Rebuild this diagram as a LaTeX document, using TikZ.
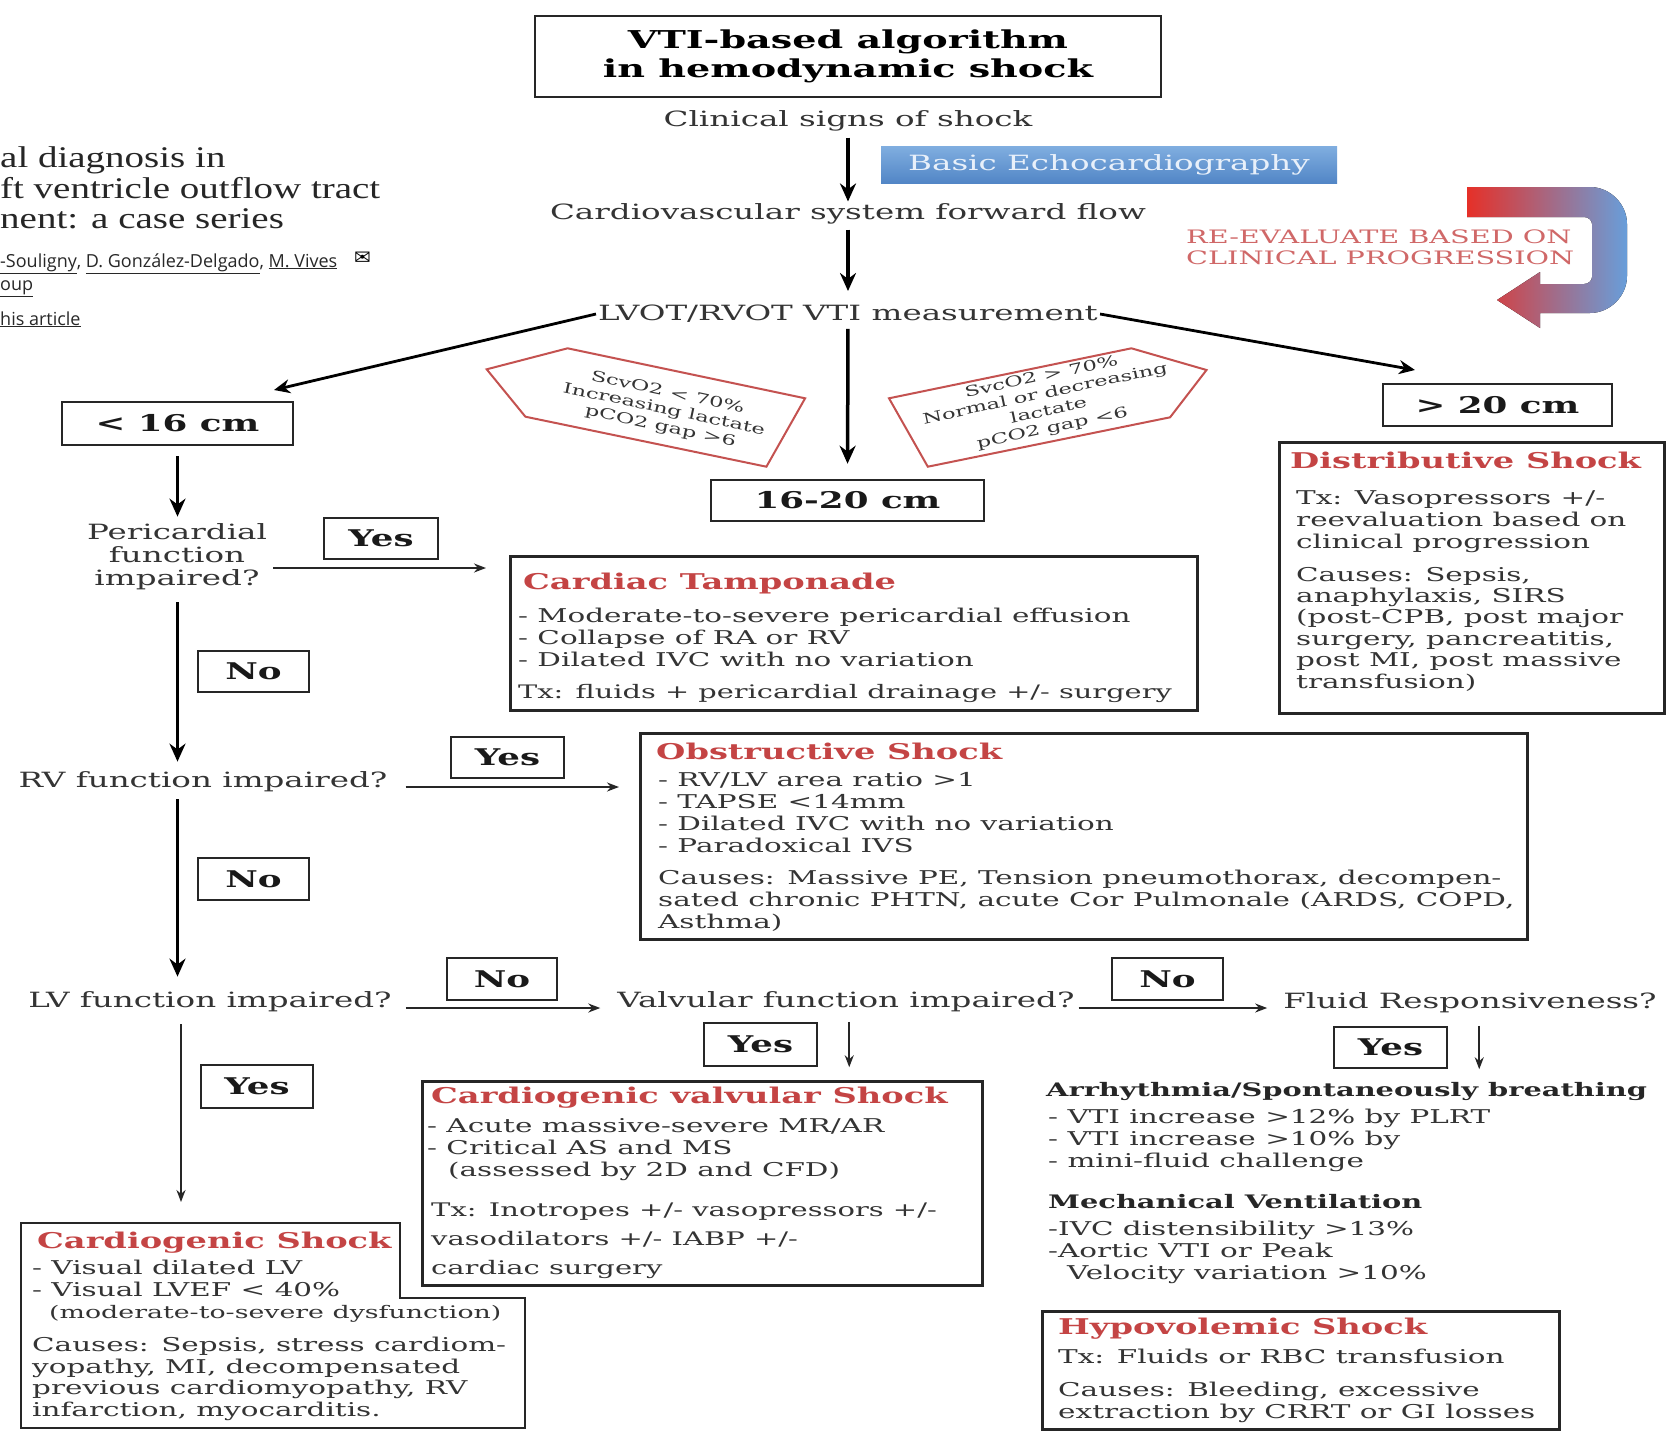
\documentclass[tikz,border=0pt]{standalone}
\usepackage{fontspec}
\setmainfont{DejaVu Serif}[FakeStretch=1.55]
\newfontfamily\artfont{Liberation Serif}[FakeStretch=1.3]
\newfontfamily\authfont{Open Sans}
\newfontfamily\symfont{DejaVu Sans}
\usetikzlibrary{arrows.meta}
\definecolor{txt}{RGB}{52,52,52}
\definecolor{hdr}{RGB}{196,68,68}
\definecolor{pentc}{RGB}{196,82,80}
\definecolor{bord}{RGB}{38,38,38}
\definecolor{reev}{RGB}{208,104,104}
\definecolor{betop}{RGB}{128,174,224}
\definecolor{bebot}{RGB}{82,134,198}
\definecolor{betxt}{RGB}{232,240,250}
\definecolor{arred}{RGB}{230,48,40}
\definecolor{arblue}{RGB}{104,158,218}
\definecolor{authc}{RGB}{40,40,40}
\begin{document}
\begin{tikzpicture}[x=1pt,y=-1pt,
  flow/.style={font=\fontsize{21}{23}\selectfont, text=txt, align=center, inner sep=2pt},
  lab/.style={draw=bord, line width=2.5pt, font=\bfseries\fontsize{23}{26}\selectfont, text=black!90, inner sep=0pt},
  cbox/.style={draw=bord, line width=2.5pt, inner sep=0pt, anchor=north west},
  hd/.style={font=\bfseries\fontsize{21.7}{24}\selectfont, text=hdr, anchor=base west, inner sep=0pt},
  body/.style={font=\fontsize{19}{21.7}\selectfont, text=txt, anchor=base west, align=left, inner sep=0pt},
  subhd/.style={font=\bfseries\fontsize{18.6}{21}\selectfont, text=black!85, anchor=base west, inner sep=0pt},
  arrA/.style={line width=3.5pt, draw=black, -{Stealth[length=18pt,width=16pt]}},
  arrL/.style={line width=2.8pt, draw=black, -{Stealth[length=16pt,width=14pt]}},
  arrB/.style={line width=1.8pt, draw=black!85, -{Stealth[length=12pt,width=9pt]}},
  pent/.style={draw=pentc, line width=2pt},
  ptxt/.style={font=\fontsize{14.5}{17.5}\selectfont, text=txt, align=center, inner sep=0pt},
  art/.style={font=\artfont\fontsize{30}{30.5}\selectfont, text=black!85, anchor=base west, inner sep=0pt},
  auth/.style={font=\authfont\fontsize{18}{20}\selectfont, text=authc, anchor=base west, inner sep=0pt},
]
\useasboundingbox (0,0) rectangle (1668,1430);
\clip (0,0) rectangle (1668,1430);
\fill[white] (0,0) rectangle (1668,1430);

% article fragment at left
\node[art] (a1) at (0,167) {al diagnosis in};
\node[art] (a2) at (0,198) {ft ventricle outflow tract};
\node[art] (a3) at (0,228) {nent: a case series};
\node[auth] (a4) at (0,267) {\underline{-Souligny}, \underline{D. González-Delgado}, \underline{M. Vives}};
\node[font=\symfont\fontsize{20}{20}\selectfont, anchor=base west, inner sep=0pt] (env) at (354,264) {✉};
\node[auth] (a5) at (0,290) {\underline{oup}};
\node[auth] (a6) at (0,325) {\underline{his article}};

% title and main flow
\node[draw=bord, line width=2.5pt, minimum width=626, minimum height=81, font=\bfseries\fontsize{24.6}{28.5}\selectfont, align=center, inner sep=0pt] (title) at (848,56.5) {VTI-based algorithm\\in hemodynamic shock};
\node[flow] (cs) at (848,121) {Clinical signs of shock};
\node[top color=betop, bottom color=bebot, minimum width=456, minimum height=37, inner sep=0pt, text=betxt, font=\fontsize{21}{23}\selectfont] (be) at (1109,164.5) {Basic Echocardiography};
\node[flow] (cv) at (848,214) {Cardiovascular system forward flow};
\node[flow] (lvot) at (848,314) {LVOT/RVOT VTI measurement};

% re-evaluate
\node[font=\fontsize{18.5}{21}\selectfont, text=reev, anchor=base west, align=left, inner sep=0pt] (reev) at (1186,264) {RE-EVALUATE BASED ON\\CLINICAL PROGRESSION};
\fill[left color=arred, right color=arblue] (1467,187) -- (1590,187) .. controls (1610,187) and (1627,204) .. (1627,224) -- (1627,276) .. controls (1627,296) and (1610,313) .. (1590,313) -- (1540,313) -- (1540,328) -- (1497,300) -- (1540,272) -- (1540,284) -- (1584,284) .. controls (1588,284) and (1592,281) .. (1592,277) -- (1592,224) .. controls (1592,220) and (1588,217) .. (1584,217) -- (1467,217) -- cycle;

% pentagons
\draw[pent] (486.7,369.3) -- (567.6,348.3) -- (805.1,398.3) -- (766.4,466.7) -- (525.4,416.7) -- cycle;
\draw[pent] (889,398.3) -- (1131.4,348.3) -- (1206.5,370) -- (1170.1,417.3) -- (927.8,466.7) -- cycle;
\node[ptxt, rotate=-12] (pl) at (664,410) {ScvO2 < 70\%\\Increasing lactate\\pCO2 gap >6};
\node[ptxt, rotate=12] (pr) at (1047,403) {SvcO2 > 70\%\\Normal or decreasing\\lactate\\pCO2 gap <6};

% range boxes
\node[lab, minimum width=231, minimum height=43] (lt16) at (177.5,423.5) {< 16 cm};
\node[lab, minimum width=229, minimum height=42] (gt20) at (1497.5,405) {> 20 cm};
\node[lab, minimum width=273, minimum height=41] (mid) at (847.5,500.5) {16-20 cm};

% questions
\node[flow] (peri) at (177,557) {Pericardial\\function\\impaired?};
\node[flow] (rv) at (203,782) {RV function impaired?};
\node[flow] (lv) at (210,1002) {LV function impaired?};
\node[flow] (valv) at (846,1002) {Valvular function impaired?};
\node[flow] (fluid) at (1470,1003) {Fluid Responsiveness?};

% yes / no labels
\node[lab, minimum width=114, minimum height=41] (yes1) at (381,538.5) {Yes};
\node[lab, minimum width=111, minimum height=41] (no1) at (253.5,671.5) {No};
\node[lab, minimum width=113, minimum height=41] (yes2) at (507.5,757.5) {Yes};
\node[lab, minimum width=111, minimum height=42] (no2) at (253.5,879) {No};
\node[lab, minimum width=110, minimum height=42] (no3) at (502,979) {No};
\node[lab, minimum width=111, minimum height=42] (no4) at (1167.5,979) {No};
\node[lab, minimum width=113, minimum height=43] (yes3) at (760.5,1044.5) {Yes};
\node[lab, minimum width=113, minimum height=41] (yes4) at (1390.5,1047.5) {Yes};
\node[lab, minimum width=112, minimum height=43] (yes5) at (257,1086.5) {Yes};

% Cardiac tamponade
\node[cbox, minimum width=687, minimum height=154] (ct) at (509,555) {};
\node[hd] (cth) at (523,589) {Cardiac Tamponade};
\node[body] (ctb) at (518,698) {- Moderate-to-severe pericardial effusion\\- Collapse of RA or RV\\- Dilated IVC with no variation\\[10pt]{\fontsize{18.6}{21.7}\selectfont Tx: fluids + pericardial drainage +/- surgery}};

% Obstructive
\node[cbox, minimum width=887, minimum height=206] (ob) at (639,732) {};
\node[hd] (obh) at (656,759) {Obstructive Shock};
\node[body] (obb) at (658,852) {- RV/LV area ratio >1\\- TAPSE <14mm\\- Dilated IVC with no variation\\- Paradoxical IVS};
\node[body] (obc) at (658,928) {Causes: Massive PE, Tension pneumothorax, decompen-\\sated chronic PHTN, acute Cor Pulmonale (ARDS, COPD,\\Asthma)};

% Distributive
\node[cbox, minimum width=385, minimum height=271] (ds) at (1278,441) {};
\node[hd] (dsh) at (1290,468) {Distributive Shock};
\node[body] (dsb) at (1296,548) {Tx: Vasopressors +/-\\reevaluation based on\\clinical progression};
\node[body, font=\fontsize{19}{21.4}\selectfont] (dsc) at (1296,688) {Causes: Sepsis,\\anaphylaxis, SIRS\\(post-CPB, post major\\surgery, pancreatitis,\\post MI, post massive\\transfusion)};

% Valvular
\node[cbox, minimum width=560, minimum height=204] (vb) at (421,1080) {};
\node[hd] (vbh) at (431,1103) {Cardiogenic valvular Shock};
\node[body] (vbb) at (427,1176) {- Acute massive-severe MR/AR\\- Critical AS and MS\\\hspace*{21pt}(assessed by 2D and CFD)};
\node[body, font=\fontsize{18.7}{29}\selectfont] (vbt) at (431,1274) {Tx: Inotropes +/- vasopressors +/-\\vasodilators +/- IABP +/-\\cardiac surgery};

% Cardiogenic
\draw[line width=2.5pt, draw=bord] (21,1223) -- (400,1223) -- (400,1298) -- (525,1298) -- (525,1428) -- (21,1428) -- cycle;
\node[hd] (cgh) at (37,1248) {Cardiogenic Shock};
\node[body, text=black!80] (cgb) at (32,1318) {- Visual dilated LV\\- Visual LVEF < 40\%\\\hspace*{17pt}{\fontsize{17.3}{21.7}\selectfont(moderate-to-severe dysfunction)}};
\node[body, font=\fontsize{19}{21.4}\selectfont] (cgc) at (32,1416) {Causes: Sepsis, stress cardiom-\\yopathy, MI, decompensated\\previous cardiomyopathy, RV\\infarction, myocarditis.};

% Fluid responsiveness
\node[subhd] (fr1) at (1046,1096) {Arrhythmia/Spontaneously breathing};
\node[body] (fr2) at (1048,1167) {- VTI increase >12\% by PLRT\\- VTI increase >10\% by\\- mini-fluid challenge};
\node[subhd] (fr3) at (1048,1208) {Mechanical Ventilation};
\node[body] (fr4) at (1048,1279) {-IVC distensibility >13\%\\-Aortic VTI or Peak\\\hspace*{19pt}Velocity variation >10\%};

% Hypovolemic
\node[cbox, minimum width=517, minimum height=118] (hy) at (1041,1310) {};
\node[hd] (hyh) at (1058,1334) {Hypovolemic Shock};
\node[body] (hyb) at (1058,1363) {Tx: Fluids or RBC transfusion};
\node[body, font=\fontsize{19}{22}\selectfont] (hyc) at (1058,1418) {Causes: Bleeding, excessive\\extraction by CRRT or GI losses};

% connectors
\coordinate (lt16in) at (274,390);
\coordinate (gt20in) at (1415,370);
\draw[arrA, shorten <=4pt] (cs.south) -- (cv.north);
\draw[arrA, shorten <=3pt, shorten >=12pt] (cv.south) -- (lvot.north);
\draw[arrA, shorten <=4pt, shorten >=15pt] (lvot.south) -- (mid.north);
\draw[arrL] (lvot.west) -- (lt16in);
\draw[arrL] (lvot.east) -- (gt20in);
\draw[arrA, shorten <=10pt, shorten >=5pt] (lt16.south) -- (lt16.south |- peri.north);
\coordinate (pa) at ([yshift=-11pt]peri.east);
\draw[arrB, shorten <=4pt, shorten >=23pt] (pa) -- (pa -| ct.west);
\draw[arrA, shorten <=10pt, shorten >=8pt] (peri.south -| lt16.south) -- (rv.north -| lt16.south);
\coordinate (ra) at ([yshift=-5pt]rv.east);
\draw[arrB, shorten <=16pt, shorten >=20pt] (ra) -- (ra -| ob.west);
\draw[arrA, shorten <=5pt, shorten >=13pt] (rv.south -| lt16.south) -- (lv.north -| lt16.south);
\coordinate (la) at ([yshift=-6pt]lv.east);
\draw[arrB, shorten <=12pt, shorten >=15pt] (la) -- (la -| valv.west);
\coordinate (va) at ([yshift=-6pt]valv.east);
\draw[arrB, shorten <=2pt, shorten >=14pt] (va) -- (va -| fluid.west);
\draw[arrB] ([xshift=31pt]yes3.north east) -- ([xshift=31pt]yes3.south east);
\draw[arrB] ([xshift=31pt]yes4.north east) -- ([xshift=31pt]yes4.south east);
\coordinate (cgin) at (181,1202);
\draw[arrB, shorten <=10pt] (lv.south -| cgin) -- (cgin);
\end{tikzpicture}
\end{document}
